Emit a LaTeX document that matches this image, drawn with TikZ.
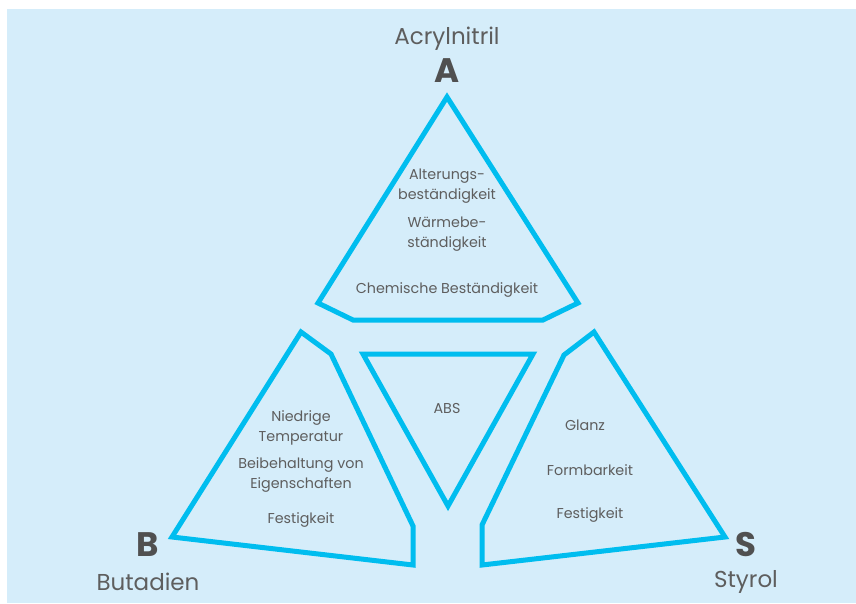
\documentclass[tikz,border=0pt]{standalone}
\usepackage{fontspec}
\setmainfont{Poppins}
\usepackage{xcolor}
\usetikzlibrary{positioning}

\definecolor{bgblue}{HTML}{D5EDFA}
\definecolor{linecyan}{HTML}{00BDEF}
\definecolor{txtgrey}{HTML}{5E5E5E}
\definecolor{lettergrey}{HTML}{505050}

\begin{document}
\begin{tikzpicture}[x=1pt, y=-1pt,
    part/.style={draw=linecyan, line width=5pt, line join=miter},
    prop/.style={text=txtgrey, font=\fontsize{14.3}{19.5}\selectfont, align=center, inner sep=0pt},
    letter/.style={text=lettergrey, font=\fontsize{34}{34}\selectfont\bfseries, inner sep=0pt},
    monomer/.style={text=txtgrey, font=\fontsize{23}{26}\selectfont, inner sep=0pt}]
      \useasboundingbox (0,0) rectangle (856,603);
      \fill[bgblue] (7,9) rectangle (856,603);

      % three monomer parts and the ABS core
      \draw[part] (447,97) -- (578,303) -- (543,320) -- (353,320) -- (318,303) -- cycle;
      \draw[part] (301,332) -- (331,354) -- (413,526) -- (413,565) -- (172,537) -- cycle;
      \draw[part] (594,332) -- (564,355) -- (482,525) -- (482,565) -- (725,537) -- cycle;
      \draw[part] (363,354) -- (533,354) -- (448,506) -- cycle;

      % corner labels
      \node[monomer] (acryl) at (447,39) {Acrylnitril};
      \node[letter] (lettA) at (447,71) {A};
      \node[letter] (lettB) at (148,545) {B};
      \node[monomer] (butad) at (148,582) {Butadien};
      \node[letter] (lettS) at (746,545) {S};
      \node[monomer] (styrol) at (746,582) {Styrol};

      % properties
      \node[prop] (alter) at (447,186) {Alterungs-\\beständigkeit};
      \node[prop] (waerme) at (447,234) {Wärmebe-\\ständigkeit};
      \node[prop] (chem) at (447,290) {Chemische Beständigkeit};
      \node[prop] (abs) at (447,408) {ABS};
      \node[prop] (niedrig) at (301,428) {Niedrige\\Temperatur};
      \node[prop] (beibeh) at (301,475) {Beibehaltung von\\Eigenschaften};
      \node[prop] (festB) at (301,520) {Festigkeit};
      \node[prop] (glanz) at (585,425) {Glanz};
      \node[prop] (formb) at (590,470) {Formbarkeit};
      \node[prop] (festS) at (590,515) {Festigkeit};
    \end{tikzpicture}
\end{document}
